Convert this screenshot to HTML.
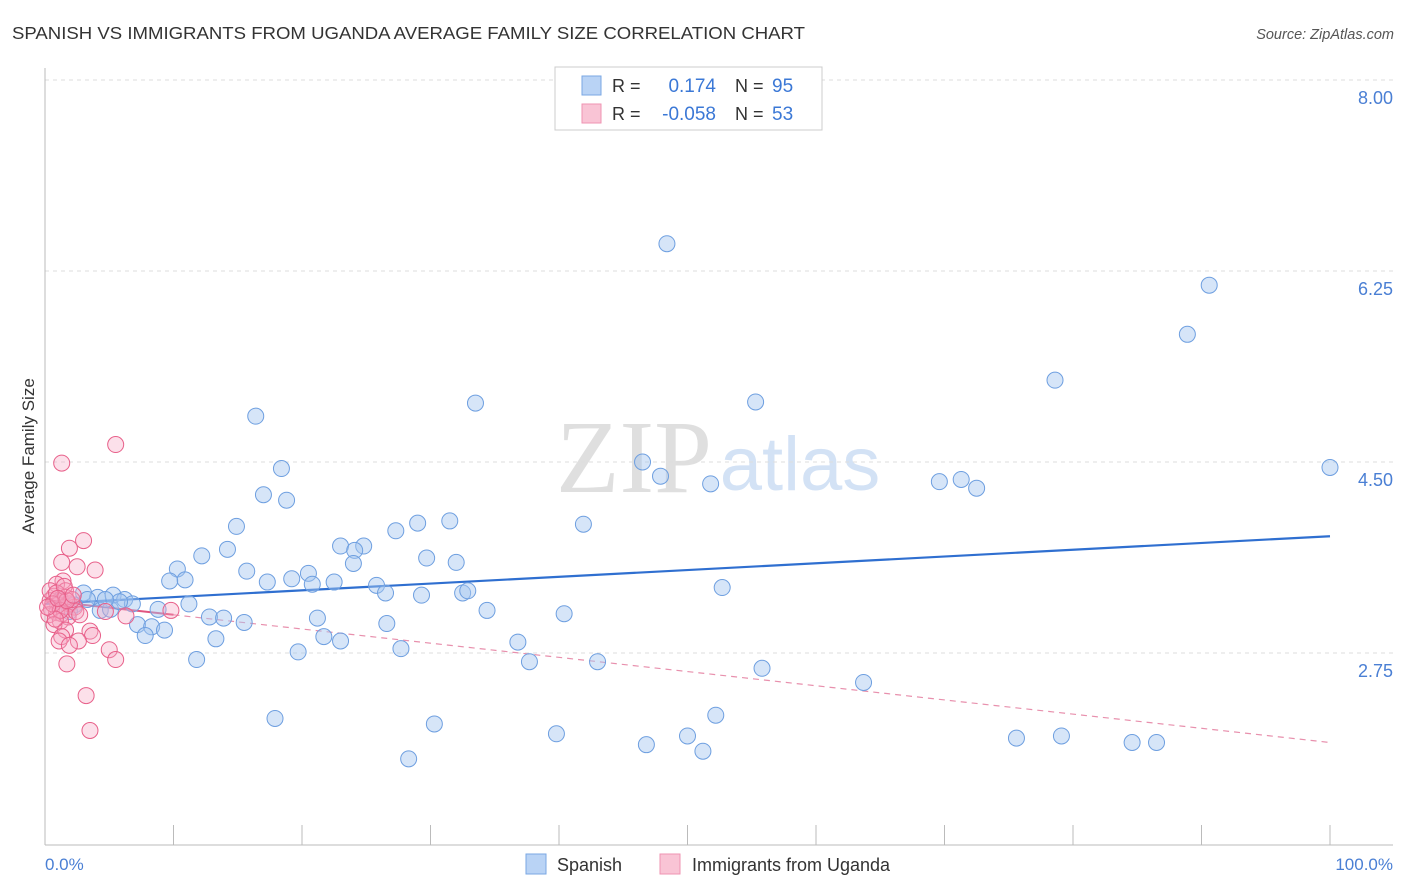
<!DOCTYPE html>
<html><head><meta charset="utf-8">
<style>
body{margin:0;background:#fff;font-family:"Liberation Sans",sans-serif;}
svg{display:block}
</style></head>
<body>
<svg id="chart" width="1406" height="892" xmlns="http://www.w3.org/2000/svg" font-family="Liberation Sans, sans-serif">
<text x="12" y="39" font-size="17.5" fill="#333" textLength="793" lengthAdjust="spacingAndGlyphs">SPANISH VS IMMIGRANTS FROM UGANDA AVERAGE FAMILY SIZE CORRELATION CHART</text>
<text x="1394" y="39" font-size="14.5" fill="#555" text-anchor="end" font-style="italic">Source: ZipAtlas.com</text>
<g>
<text x="634" y="492" font-size="104" fill="#d8d8d8" text-anchor="middle" font-family="Liberation Serif, serif" opacity="0.8">ZIP</text>
<text x="800" y="490" font-size="76" fill="#c9dbf3" text-anchor="middle" opacity="0.8">atlas</text>
</g>
<g id="grid"></g>
<g id="axes"></g>
<g id="trend"></g>
<g id="points"></g>
<text transform="translate(34,456) rotate(-90)" font-size="17" fill="#333" text-anchor="middle">Average Family Size</text>
<text x="45" y="870" font-size="17" fill="#4a7fd4">0.0%</text>
<text x="1393" y="870" font-size="17" fill="#4a7fd4" text-anchor="end">100.0%</text>
<g>
<rect x="555" y="67" width="267" height="63" fill="#fff" stroke="#ccc"/>
<rect x="582" y="76" width="19" height="19" fill="#b9d3f5" stroke="#7aa7e3"/>
<rect x="582" y="104" width="19" height="19" fill="#f9c4d5" stroke="#ef93b2"/>
<text x="612" y="92" font-size="18" fill="#333">R =</text>
<text x="716" y="92" font-size="19" fill="#3b78d6" text-anchor="end">0.174</text>
<text x="735" y="92" font-size="18" fill="#333">N =</text>
<text x="772" y="92" font-size="19" fill="#3b78d6">95</text>
<text x="612" y="120" font-size="18" fill="#333">R =</text>
<text x="716" y="120" font-size="19" fill="#3b78d6" text-anchor="end">-0.058</text>
<text x="735" y="120" font-size="18" fill="#333">N =</text>
<text x="772" y="120" font-size="19" fill="#3b78d6">53</text>
</g>
<g>
<rect x="526" y="854" width="20" height="20" fill="#b9d3f5" stroke="#7aa7e3"/>
<text x="557" y="871" font-size="18" fill="#333">Spanish</text>
<rect x="660" y="854" width="20" height="20" fill="#f9c4d5" stroke="#ef93b2"/>
<text x="692" y="871" font-size="18" fill="#333">Immigrants from Uganda</text>
</g>
</svg>
<script>
const yTicks=[8.00,6.25,4.50,2.75];
const yTickLabels=["8.00","6.25","4.50","2.75"];
const xTicks=[0,10,20,30,40,50,60,70,80,90,100];
const blueX=[48.4,90.6,88.9,78.6,33.5,55.3,16.4,46.5,47.9,51.8,69.6,71.3,72.5,100,18.4,17.0,18.8,14.9,29.0,31.5,41.9,27.3,23.0,24.8,24.1,14.2,12.2,29.7,32.0,24.0,10.3,15.7,20.5,19.2,10.9,9.7,17.3,22.5,20.8,25.8,26.5,29.3,32.5,32.9,52.7,3.0,4.1,5.3,6.2,6.8,8.8,11.2,4.3,5.1,34.4,40.4,12.8,13.9,15.5,21.2,7.2,8.3,9.3,7.8,13.3,21.7,23.0,26.6,36.8,19.7,27.7,11.8,37.7,43.0,55.8,63.7,17.9,30.3,52.2,39.8,50.0,46.8,51.2,28.3,75.6,79.1,84.6,86.5,3.3,5.8,2.3,4.7,1.2,1.4,1.9];
const blueY=[6.50,6.12,5.67,5.25,5.04,5.05,4.92,4.50,4.37,4.30,4.32,4.34,4.26,4.45,4.44,4.20,4.15,3.91,3.94,3.96,3.93,3.87,3.73,3.73,3.69,3.70,3.64,3.62,3.58,3.57,3.52,3.50,3.48,3.43,3.42,3.41,3.40,3.40,3.38,3.37,3.30,3.28,3.30,3.32,3.35,3.30,3.26,3.28,3.24,3.20,3.15,3.20,3.14,3.15,3.14,3.11,3.08,3.07,3.03,3.07,3.01,2.99,2.96,2.91,2.88,2.90,2.86,3.02,2.85,2.76,2.79,2.69,2.67,2.67,2.61,2.48,2.15,2.10,2.18,2.01,1.99,1.91,1.85,1.78,1.97,1.99,1.93,1.93,3.24,3.22,3.19,3.24,3.23,3.18,3.13];
const pinkX=[1.3,5.5,1.9,3.0,1.3,2.5,3.9,1.4,0.9,1.6,0.7,1.2,0.4,1.0,1.5,0.5,1.9,2.3,0.9,1.3,0.3,1.8,2.4,1.2,0.7,1.6,3.5,1.3,3.7,2.6,1.1,1.9,5.0,5.5,1.7,3.2,3.5,6.3,9.8,4.7,0.4,0.9,1.6,2.1,0.6,1.2,1.7,0.8,2.7,0.2,1.5,2.2,1.0];
const pinkY=[4.49,4.66,3.71,3.78,3.58,3.54,3.51,3.41,3.38,3.32,3.27,3.24,3.23,3.19,3.17,3.15,3.20,3.17,3.12,3.11,3.10,3.08,3.13,3.04,3.01,2.96,2.95,2.90,2.91,2.86,2.86,2.82,2.78,2.69,2.65,2.36,2.04,3.09,3.14,3.13,3.32,3.30,3.26,3.24,3.20,3.14,3.23,3.06,3.10,3.17,3.36,3.28,3.25];
const blueTrend=[3.20,3.82];
const pinkTrend=[3.23,1.93];
const pinkSolidEnd=10;

const NS="http://www.w3.org/2000/svg";
const X0=45,X1=1330,YB=845,YT=68;
const sx=v=>X0+(v/100)*(X1-X0);
const sy=v=>653-(v-2.75)*(191/1.75);
function mk(tag,attrs,parent){const e=document.createElementNS(NS,tag);for(const k in attrs)e.setAttribute(k,attrs[k]);parent.appendChild(e);return e;}
const grid=document.getElementById('grid'),axes=document.getElementById('axes'),trend=document.getElementById('trend'),pts=document.getElementById('points');
yTicks.forEach((t,i)=>{
 const l=mk('line',{x1:X0,x2:1393,y1:sy(t),y2:sy(t),stroke:'#ddd','stroke-dasharray':'4,4'},grid);
 
 
 const tx=mk('text',{x:1393,y:sy(t)+24,'font-size':18,fill:'#4a7fd4','text-anchor':'end'},grid);
 tx.textContent=yTickLabels[i];
 
 
});
const ax=mk('line',{x1:X0,x2:1393,y1:YB,y2:YB,stroke:'#bbb'},axes);


const ay=mk('line',{x1:X0,x2:X0,y1:YT,y2:YB,stroke:'#bbb'},axes);


xTicks.forEach(t=>{
 const l=mk('line',{x1:sx(t),x2:sx(t),y1:825,y2:YB,stroke:'#bbb'},axes);
 
 
});
const bt=mk('line',{x1:sx(0),x2:sx(100),y1:sy(blueTrend[0]),y2:sy(blueTrend[1]),stroke:'#2f6fd0','stroke-width':2.2},trend);


const pAt=x=>pinkTrend[0]+(pinkTrend[1]-pinkTrend[0])*x/100;
const pd=mk('line',{x1:sx(pinkSolidEnd),x2:sx(100),y1:sy(pAt(pinkSolidEnd)),y2:sy(pinkTrend[1]),stroke:'#e890ad','stroke-width':1.2,'stroke-dasharray':'6,5'},trend);


const ps=mk('line',{x1:sx(0),x2:sx(pinkSolidEnd),y1:sy(pinkTrend[0]),y2:sy(pAt(pinkSolidEnd)),stroke:'#e0557f','stroke-width':2},trend);


blueX.forEach((x,i)=>{
 const c=mk('circle',{cx:sx(x),cy:sy(blueY[i]),r:8,fill:'rgba(165,198,240,0.45)',stroke:'#6e9fe0','stroke-width':1},pts);
 
 
});
pinkX.forEach((x,i)=>{
 const c=mk('circle',{cx:sx(x),cy:sy(pinkY[i]),r:8,fill:'rgba(245,165,195,0.35)',stroke:'#e8608a','stroke-width':1},pts);
 
 
});
</script>
</body></html>
